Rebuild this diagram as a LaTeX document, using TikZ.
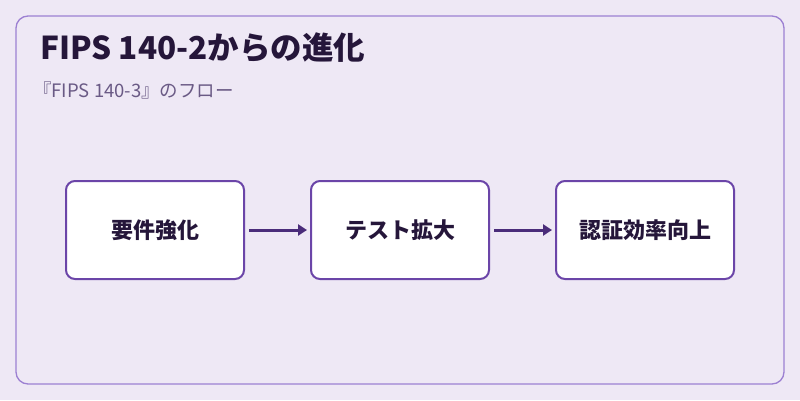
\documentclass[tikz,border=0pt]{standalone}
\usepackage{fontspec}
\setmainfont{Noto Sans CJK JP}
\usetikzlibrary{arrows.meta}
\definecolor{bg}{HTML}{EEE8F5}
\definecolor{frame}{HTML}{9C80D2}
\definecolor{boxline}{HTML}{6B45A8}
\definecolor{arr}{HTML}{4A2C7A}
\definecolor{ttl}{HTML}{25163A}
\definecolor{sub}{HTML}{6A5A85}
\tikzset{x=1pt,y=-1pt,
 stepbox/.style={draw=boxline,line width=2pt,fill=white,rounded corners=9pt,minimum width=178pt,minimum height=98pt,font=\fontsize{22}{26}\selectfont\bfseries,text=ttl},
 flow/.style={draw=arr,line width=3pt,-{Triangle[length=9pt,width=11pt]}}}
\begin{document}
\begin{tikzpicture}
\useasboundingbox (0,0) rectangle (800,400);
\fill[bg] (0,0) rectangle (800,400);
\draw[frame,line width=1.3pt,rounded corners=12pt,fill=bg] (16,16) rectangle (784,384);
\node[anchor=base west,font=\fontsize{31.5}{36}\selectfont\bfseries,text=ttl,inner sep=0] (title) at (40,59) {FIPS 140-2からの進化};
\node[anchor=base west,font=\fontsize{18.5}{22}\selectfont,text=sub,inner sep=0] (sub) at (33,97) {『FIPS 140-3』のフロー};
\node[stepbox] (a) at (155,230) {要件強化};
\node[stepbox] (b) at (400,230) {テスト拡大};
\node[stepbox] (c) at (645,230) {認証効率向上};
\draw[flow] ([xshift=4pt]a.east) -- ([xshift=-3pt]b.west);
\draw[flow] ([xshift=4pt]b.east) -- ([xshift=-3pt]c.west);
\end{tikzpicture}
\end{document}
